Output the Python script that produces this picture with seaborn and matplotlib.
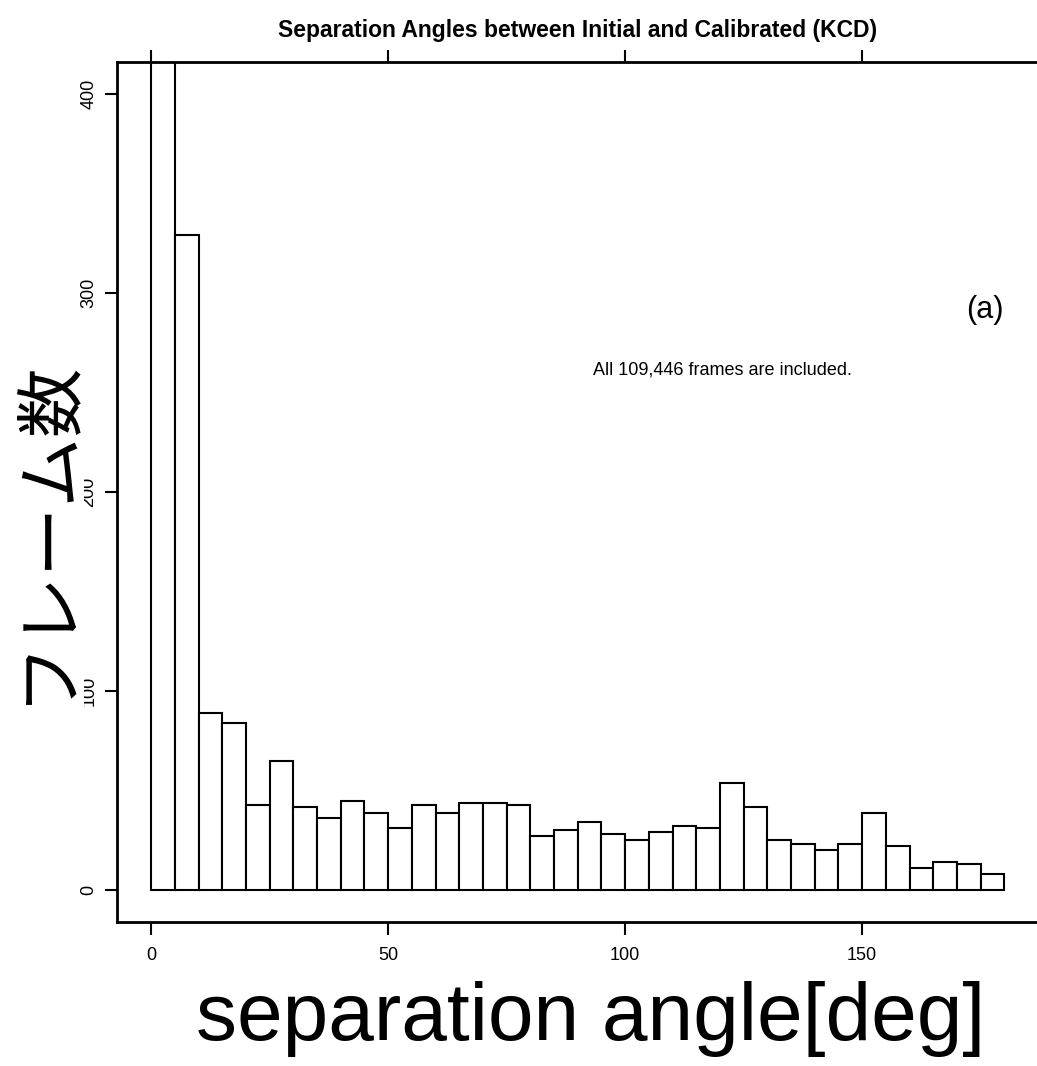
import numpy as np
import pandas as pd
import matplotlib
matplotlib.use('Agg')
import matplotlib.pyplot as plt
import seaborn as sns

# bin counts (5 deg bins, 0..180); first bin is clipped in the original
bin_left = list(range(0, 180, 5))
counts = [107900, 329, 89, 84, 43, 65, 42, 36, 45, 39, 31, 43, 39, 44, 44, 43,
          27, 30, 34, 28, 25, 29, 32, 31, 54, 42, 25, 23, 20, 23, 39, 22,
          11, 14, 13, 8]
x_ticks = [0, 50, 100, 150]
y_ticks = [0, 100, 200, 300, 400]

title = 'Separation Angles between Initial and Calibrated (KCD)'
xlabel = 'separation angle[deg]'
ylabel = 'フレーム数'
note = 'All 109,446 frames are included.'
tag = '(a)'

sns.set_style('white')
plt.rcParams['font.family'] = ['Liberation Sans', 'DejaVu Sans']
plt.rcParams['text.color'] = 'black'
plt.rcParams['xtick.color'] = 'black'
plt.rcParams['ytick.color'] = 'black'

fig = plt.figure(figsize=(10.37, 10.66), dpi=100)
ax = fig.add_axes([117 / 1037, 144 / 1066, 921.5 / 1037, 860 / 1066])

df = pd.DataFrame({'angle': np.array(bin_left) + 2.5, 'n': counts})
sns.histplot(data=df, x='angle', weights='n', binwidth=5, binrange=(0, 180),
             ax=ax, color='white', edgecolor='black', linewidth=1.5, alpha=1)

ax.set_xlim(-7.2, 187.2)
ax.set_ylim(-16, 416)
ax.set_xticks(x_ticks)
ax.set_yticks(y_ticks)
ax.set_yticklabels([str(v) for v in y_ticks], rotation=90, va='center')
ax.tick_params(axis='both', direction='out', length=9, width=1.5, labelsize=13,
               bottom=True, left=True, top=True, labeltop=False)
ax.tick_params(axis='x', pad=9)
ax.tick_params(axis='y', pad=5)
ax.set_xlabel('')
ax.set_ylabel('')
for s in ax.spines.values():
    s.set_color('black')
    s.set_linewidth(2)

ax.set_title(title, fontsize=16.5, fontweight='bold', pad=18)

fig.text(985 / 1037, 1 - 310 / 1066, tag, fontsize=22, ha='center', va='center')
fig.text(593 / 1037, 1 - 370 / 1066, note, fontsize=13, ha='left', va='center')

fig.text(591 / 1037, 1 - 1040 / 1066, xlabel, fontsize=59,
         ha='center', va='baseline')
fig.text(45 / 1037, 1 - 530 / 1066, ylabel, fontsize=50, rotation=90,
         family=['Noto Sans CJK JP', 'DejaVu Sans'], ha='center', va='center',
         bbox=dict(facecolor='white', edgecolor='none', pad=2))

fig.savefig('out.png', dpi=100)
